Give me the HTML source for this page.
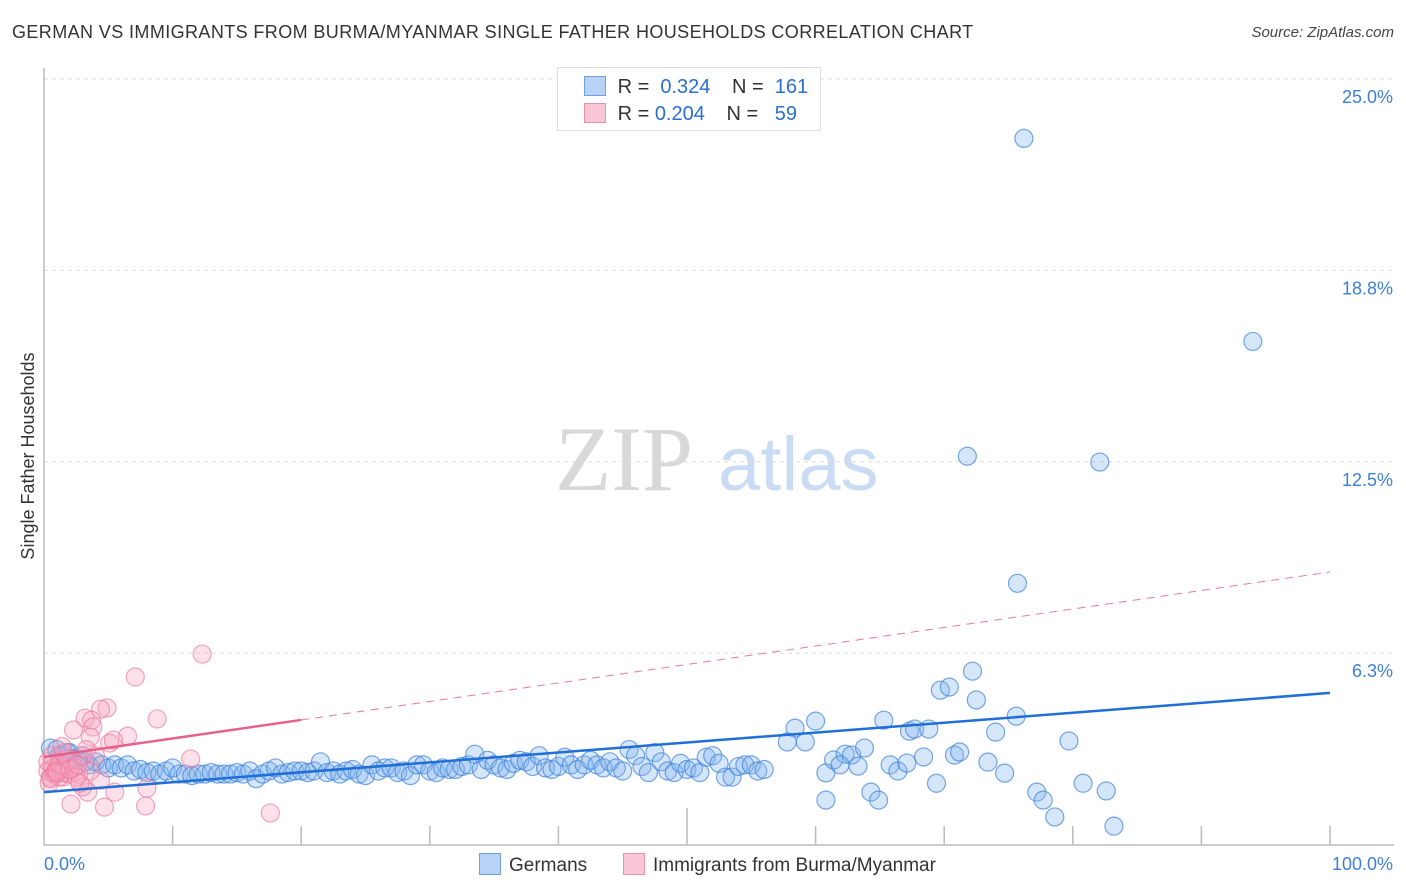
<!DOCTYPE html>
<html><head><meta charset="utf-8">
<style>
body{margin:0;background:#fff;font-family:"Liberation Sans",sans-serif;}
#wrap{position:relative;width:1406px;height:892px;overflow:hidden;}
.t{position:absolute;white-space:nowrap;}
</style></head>
<body>
<div id="wrap">
<div class="t" style="left:12px;top:22px;font-size:18px;letter-spacing:0.4px;color:#333;">GERMAN VS IMMIGRANTS FROM BURMA/MYANMAR SINGLE FATHER HOUSEHOLDS CORRELATION CHART</div>
<div class="t" style="right:12px;top:24px;font-size:15px;color:#444;font-style:italic;">Source: ZipAtlas.com</div>
<svg id="svg" width="1406" height="892" style="position:absolute;left:0;top:0"></svg>
</div>
<script>
const blueX=[0.5,1,1.5,2,2.5,3,3.5,4,4.5,5,5.5,6,6.5,7,7.5,8,8.5,9,9.5,10,10.5,11,11.5,12,12.5,13,13.5,14,14.5,15,15.5,16,16.5,17,17.5,18,18.5,19,19.5,20,20.5,21,21.5,22,22.5,23,23.5,24,24.5,25,25.5,26,26.5,27,27.5,28,28.5,29,29.5,30,30.5,31,31.5,32,32.5,33,33.5,34,34.5,35,35.5,36,36.5,37,37.5,38,38.5,39,39.5,40,40.5,41,41.5,42,42.5,43,43.5,44,44.5,45,45.5,46,46.5,47,47.5,48,48.5,49,49.5,50,50.5,51,51.5,52,52.5,53,53.5,54,54.5,55,55.5,56,58.4,60.0,57.8,59.2,60.8,60.8,61.4,62.3,62.8,61.9,63.3,63.8,64.3,64.9,65.3,65.8,66.4,67.1,67.3,67.7,68.8,68.4,69.4,69.7,70.4,70.8,71.2,71.8,72.2,72.5,73.4,74.0,74.7,75.6,75.7,76.2,77.2,77.7,78.6,79.7,80.8,82.1,82.6,83.2,94.0,1.2,2.2,3.2,1.8];
const blueY=[3.15,3.1,2.9,3.0,2.8,2.9,2.6,2.7,2.6,2.5,2.6,2.5,2.6,2.4,2.45,2.35,2.4,2.3,2.4,2.5,2.3,2.3,2.25,2.3,2.3,2.35,2.3,2.3,2.3,2.35,2.3,2.4,2.15,2.3,2.4,2.5,2.3,2.35,2.4,2.4,2.35,2.4,2.7,2.35,2.4,2.3,2.4,2.45,2.3,2.25,2.6,2.4,2.5,2.5,2.35,2.4,2.25,2.6,2.6,2.4,2.35,2.5,2.45,2.45,2.55,2.6,2.95,2.45,2.75,2.6,2.5,2.45,2.65,2.75,2.7,2.55,2.9,2.5,2.45,2.55,2.85,2.6,2.45,2.6,2.75,2.6,2.5,2.7,2.5,2.4,3.1,2.9,2.55,2.35,3.0,2.7,2.4,2.35,2.65,2.45,2.5,2.35,2.85,2.9,2.65,2.2,2.2,2.55,2.6,2.6,2.4,2.45,3.80,4.03,3.35,3.35,2.34,1.45,2.76,2.95,2.92,2.6,2.56,3.15,1.71,1.45,4.06,2.6,2.4,2.66,3.70,3.77,3.77,2.86,2.0,5.04,5.14,2.92,3.02,12.68,5.66,4.72,2.69,3.67,2.33,4.19,8.53,23.06,1.71,1.45,0.90,3.38,2.0,12.49,1.75,0.60,16.43,2.9,2.8,2.7,3.0];
const pinkX=[12.3,7.1,4.9,4.4,8.8,2.3,3.2,3.7,6.5,5.1,11.4,3.8,3.6,5.4,8.0,7.9,5.5,4.7,2.1,3.4,17.6,3.0,4.4,0.3,0.5,0.7,0.9,1.1,1.3,1.5,1.7,1.9,2.1,0.4,0.6,0.8,1.0,1.2,1.4,1.6,0.3,0.6,0.9,1.2,1.5,1.8,2.4,2.7,3.0,3.3,2.5,2.8,0.5,1.0,1.4,2.0,3.6,4.0,2.6];
const pinkY=[6.22,5.47,4.46,4.42,4.1,3.74,4.13,4.06,3.54,3.31,2.79,3.84,3.51,3.41,1.84,1.26,1.71,1.22,1.32,1.71,1.03,1.88,2.1,2.4,2.2,2.5,2.3,2.6,2.4,2.2,2.5,2.3,2.7,2.0,2.6,2.3,2.45,2.2,2.55,2.35,2.7,2.9,2.4,2.6,3.0,2.8,2.5,2.3,2.9,3.1,2.2,2.0,2.15,2.35,3.2,2.45,2.4,2.9,2.6];
const yTicks=[6.25,12.5,18.75,25];
const yTickLabels=["6.3%","12.5%","18.8%","25.0%"];
const blueLine=[1.71,4.95];
const pinkLine=[2.86,8.9];
const pinkSolidEnd=20;

const X0=44,X1=1330,Y0=844.5,Y25=79;
const xs=v=>X0+(X1-X0)*v/100;
const ys=v=>Y0-(Y0-Y25)*v/25;
const svg=document.getElementById('svg');
const NS='http://www.w3.org/2000/svg';
function mk(tag,attrs,parent){const e=document.createElementNS(NS,tag);for(const k in attrs)e.setAttribute(k,attrs[k]);(parent||svg).appendChild(e);return e;}

let wm=mk('text',{x:555,y:490,'font-size':92,'font-family':'Liberation Serif, serif',fill:'#d8d8d8'});wm.textContent='ZIP';


let wm2=mk('text',{x:718,y:490,'font-size':76,'font-family':'Liberation Sans, sans-serif',fill:'#c9dcf3'});wm2.textContent='atlas';



yTicks.forEach((v,i)=>{
 const g=mk('line',{x1:X0,x2:1394,y1:ys(v),y2:ys(v),stroke:'#ddd','stroke-dasharray':'4,4'});
 
 
 const t=mk('text',{x:1393,y:ys(v)+24,'text-anchor':'end','font-size':18,fill:'#3d7fd6'});t.textContent=yTickLabels[i];
 
 
});
let ax=mk('line',{x1:X0,x2:X0,y1:68,y2:845,stroke:'#bbb','stroke-width':1.5});


let bx=mk('line',{x1:X0,x2:1394,y1:845,y2:845,stroke:'#bbb','stroke-width':1.5});


for(let i=1;i<=10;i++){
 const tk=mk('line',{x1:xs(i*10),x2:xs(i*10),y1:i==5?808:826,y2:845,stroke:'#bbb','stroke-width':1.5});
 
 
}
let xl=mk('text',{x:44,y:870,'font-size':18,fill:'#3d7fd6'});xl.textContent='0.0%';


let xr=mk('text',{x:1393,y:870,'text-anchor':'end','font-size':18,fill:'#3d7fd6'});xr.textContent='100.0%';


let yt=mk('text',{x:34,y:456,'font-size':18,fill:'#333','text-anchor':'middle',transform:'rotate(-90 34 456)'});yt.textContent='Single Father Households';



blueX.forEach((x,i)=>{
 const c=mk('circle',{cx:xs(x),cy:ys(blueY[i]),r:9,fill:'rgba(130,178,238,0.33)',stroke:'rgba(60,130,220,0.7)','stroke-width':1.2});
 
 
});
pinkX.forEach((x,i)=>{
 const c=mk('circle',{cx:xs(x),cy:ys(pinkY[i]),r:9,fill:'rgba(245,165,190,0.33)',stroke:'rgba(235,120,155,0.65)','stroke-width':1.2});
 
 
});
const pAt=x=>pinkLine[0]+(pinkLine[1]-pinkLine[0])*x/100;
let pd=mk('line',{x1:xs(pinkSolidEnd),y1:ys(pAt(pinkSolidEnd)),x2:xs(100),y2:ys(pinkLine[1]),stroke:'#e77a9b','stroke-width':1,'stroke-dasharray':'8,6'});


let ps=mk('line',{x1:xs(0),y1:ys(pinkLine[0]),x2:xs(pinkSolidEnd),y2:ys(pAt(pinkSolidEnd)),stroke:'#e8608a','stroke-width':2.5});


let bl=mk('line',{x1:xs(0),y1:ys(blueLine[0]),x2:xs(100),y2:ys(blueLine[1]),stroke:'#1f6fd6','stroke-width':2.5});


</script>

<div class="t" style="left:557px;top:67px;width:262px;height:62px;border:1px solid #ddd;background:#fff;font-size:20px;">
 <div style="position:absolute;left:26px;top:8px;">
  <span style="display:inline-block;width:20px;height:18px;background:#b8d3f5;border:1px solid #6fa0e0;vertical-align:-3px;"></span>
  <span style="color:#333;margin-left:6px;">R = </span><span style="color:#2a6fd0;">&nbsp;0.324</span>
  <span style="color:#333;margin-left:16px;">N = </span><span style="color:#2a6fd0;">&nbsp;161</span></div>
 <div style="position:absolute;left:26px;top:35px;">
  <span style="display:inline-block;width:20px;height:18px;background:#f9c6d5;border:1px solid #eb8fab;vertical-align:-3px;"></span>
  <span style="color:#333;margin-left:6px;">R = </span><span style="color:#2a6fd0;">0.204</span>
  <span style="color:#333;margin-left:16px;">N = </span><span style="color:#2a6fd0;">&nbsp;&nbsp;59</span></div>
</div>

<div class="t" style="left:479px;top:853px;font-size:19px;color:#333;">
 <span style="display:inline-block;width:20px;height:20px;background:#b8d3f5;border:1px solid #6fa0e0;vertical-align:-4px;margin-right:8px;"></span>Germans</div>
<div class="t" style="left:623px;top:853px;font-size:19px;color:#333;">
 <span style="display:inline-block;width:20px;height:20px;background:#f9c6d5;border:1px solid #eb8fab;vertical-align:-4px;margin-right:8px;"></span>Immigrants from Burma/Myanmar</div>
</body></html>
